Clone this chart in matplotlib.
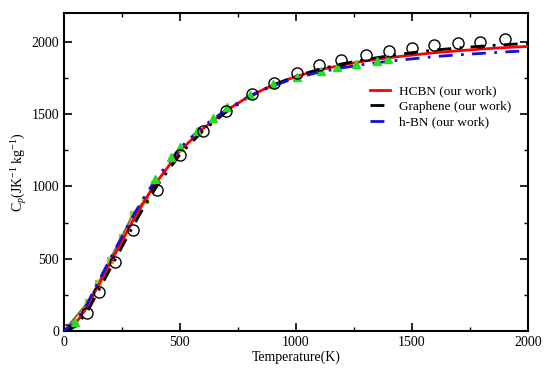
import numpy as np
import matplotlib
matplotlib.use('Agg')
import matplotlib.pyplot as plt

plt.rcParams['font.family'] = ['Liberation Serif', 'DejaVu Serif']
plt.rcParams['mathtext.fontset'] = 'custom'
plt.rcParams['mathtext.rm'] = 'Liberation Serif'
plt.rcParams['mathtext.it'] = 'Liberation Serif:italic'

# model curves (our work)
t_line = [0, 50, 100, 150, 200, 250, 300, 350, 400, 500, 600, 700, 800, 900, 1000,
          1100, 1200, 1300, 1400, 1500, 1600, 1700, 1800, 1900, 2000]
cp_hcbn = [0, 50, 165, 320, 470, 620, 770, 905, 1030, 1245, 1400, 1525, 1625, 1700, 1760,
           1805, 1840, 1868, 1890, 1908, 1925, 1938, 1950, 1960, 1968]
cp_graphene = [0, 30, 130, 280, 430, 580, 730, 870, 1000, 1220, 1385, 1515, 1620, 1700, 1762,
               1810, 1848, 1878, 1903, 1925, 1943, 1958, 1970, 1980, 1990]
cp_hbn = [0, 60, 185, 345, 500, 650, 800, 935, 1055, 1265, 1415, 1530, 1625, 1695, 1750,
          1790, 1820, 1845, 1865, 1882, 1898, 1910, 1920, 1930, 1938]

# reference data: open circles
t_circ = [10, 100, 150, 220, 300, 400, 500, 600, 700, 810, 905, 1005, 1100, 1195, 1300,
          1400, 1500, 1595, 1700, 1795, 1900]
cp_circ = [5, 126, 271, 474, 697, 977, 1214, 1386, 1524, 1637, 1717, 1781, 1839, 1876, 1908,
           1935, 1955, 1976, 1992, 2001, 2018]

# reference data: green triangles
t_tri = [47, 392, 464, 500, 572, 643, 701, 802, 902, 1003, 1106, 1175, 1261, 1350, 1398]
cp_tri = [64, 1053, 1202, 1271, 1386, 1474, 1547, 1632, 1708, 1759, 1800, 1828, 1846, 1864, 1878]

# reference data: yellow-green squares with line
t_sq = [0, 105, 148, 198, 249, 299, 349, 390]
cp_sq = [0, 202, 329, 490, 650, 811, 903, 1020]

fig = plt.figure(figsize=(5.5, 3.68), dpi=100)
ax = fig.add_axes([0.116, 0.1005, 0.844, 0.8645])

ax.plot(t_sq, cp_sq, color='#8b6b2e', lw=1.5, marker='s', ms=4.5,
        mfc='#9acd32', mec='#9acd32', zorder=2)
ax.plot(t_line, cp_hcbn, color='red', lw=2, label='HCBN (our work)', zorder=3)
ax.plot(t_line, cp_graphene, color='black', lw=2, ls=(0, (5, 3, 1, 3)),
        label='Graphene (our work)', zorder=3)
ax.plot(t_line, cp_hbn, color='#1010e0', lw=2, ls=(0, (5, 3, 1, 3)),
        label='h-BN (our work)', zorder=3)
ax.plot(t_tri, cp_tri, ls='none', marker='^', ms=5.5, color='#22dd22', zorder=4)
ax.plot(t_circ, cp_circ, ls='none', marker='o', ms=8, mfc='none', mec='black',
        mew=1.0, zorder=5)

ax.set_xlim(0, 2000)
ax.set_ylim(0, 2200)
ax.set_xticks([0, 500, 1000, 1500, 2000])
ax.set_yticks([0, 500, 1000, 1500, 2000])
ax.set_xticks(np.arange(250, 2000, 500), minor=True)
ax.set_yticks(np.arange(250, 2200, 500), minor=True)
ax.tick_params(which='both', direction='in', top=True, right=True, labelsize=10)
ax.tick_params(which='major', length=6, width=1.2)
ax.tick_params(which='minor', length=3, width=1.0)
for s in ax.spines.values():
    s.set_linewidth(1.5)

ax.set_xlabel('Temperature(K)', fontsize=10, labelpad=1)
ax.set_ylabel(r'C$_p$(JK$^{-1}$ kg$^{-1}$)', fontsize=10, labelpad=2)

ax.legend(loc='upper right', bbox_to_anchor=(0.99, 0.81), frameon=False, fontsize=9.5,
          handlelength=1.5, handletextpad=0.7, labelspacing=0.25)

fig.savefig('out.png', dpi=100)
